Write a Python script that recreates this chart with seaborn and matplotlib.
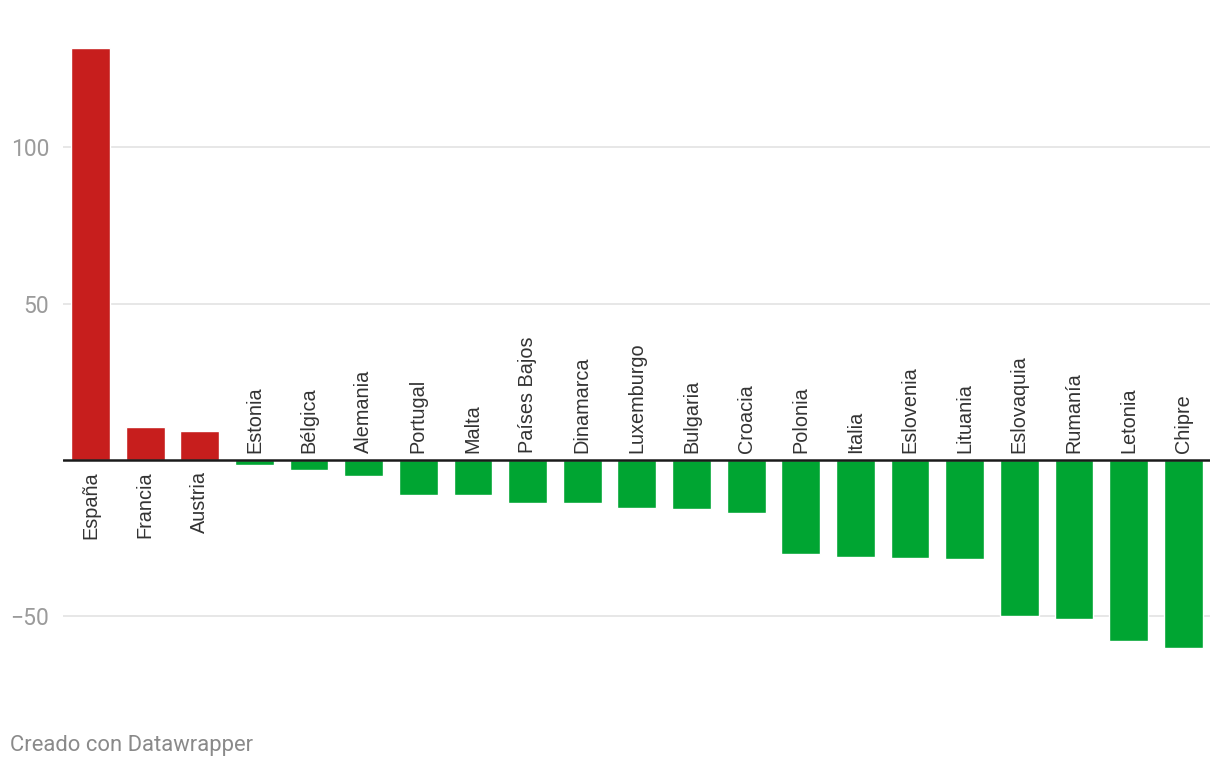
import matplotlib
matplotlib.use("Agg")
import matplotlib.pyplot as plt
import seaborn as sns
import pandas as pd

# Values
countries = ["España", "Francia", "Austria", "Estonia", "Bélgica", "Alemania",
             "Portugal", "Malta", "Países Bajos", "Dinamarca", "Luxemburgo",
             "Bulgaria", "Croacia", "Polonia", "Italia", "Eslovenia", "Lituania",
             "Eslovaquia", "Rumanía", "Letonia", "Chipre"]
values = [131.8, 10.5, 9.3, -1.6, -3.3, -5.1, -11.2, -11.2, -13.7, -13.7, -15.4,
          -15.7, -17.0, -30.0, -31.0, -31.3, -31.7, -49.9, -50.8, -57.8, -60.0]
y_ticks = [-50, 50, 100]

RED = "#c71e1d"
GREEN = "#00a532"

sns.set_theme(style="white")
plt.rcParams["font.family"] = ["Roboto", "DejaVu Sans"]

df = pd.DataFrame({"pais": countries, "valor": values})
df["signo"] = ["pos" if v > 0 else "neg" for v in df["valor"]]

fig = plt.figure(figsize=(12.2, 7.68), dpi=100)
ax = fig.add_axes([63 / 1220, 1 - 680 / 768, (1210 - 63) / 1220, 650 / 768])

sns.barplot(data=df, x="pais", y="valor", hue="signo",
            palette={"pos": RED, "neg": GREEN}, dodge=False, legend=False,
            width=0.71, saturation=1, ax=ax, zorder=2)

ax.set_ylim(-70.3, 137.4)
ax.set_xlim(-0.504, len(countries) - 0.51)
ax.set_yticks(y_ticks)
ax.set_yticklabels(["\u221250", "50", "100"])
ax.yaxis.grid(True, color="#e3e3e3", linewidth=1.2, zorder=0)
ax.axhline(0, color="#1a1a1a", linewidth=1.8, zorder=3)
ax.tick_params(axis="y", length=0, pad=10, labelsize=16.5, labelcolor="#9b9b9b")
ax.set_xticks([])
ax.set_xlabel("")
ax.set_ylabel("")
for s in ax.spines.values():
    s.set_visible(False)

# country labels: below the baseline for positives, above for negatives
lab_font = ["Liberation Sans", "DejaVu Sans"]
for i, (name, v) in enumerate(zip(countries, values)):
    if v > 0:
        ax.annotate(name, (i, 0), xytext=(0, -8), textcoords="offset points",
                    rotation=90, ha="center", va="top", fontsize=14.3,
                    color="#333333", family=lab_font)
    else:
        ax.annotate(name, (i, 0), xytext=(0, 5), textcoords="offset points",
                    rotation=90, ha="center", va="bottom", fontsize=14.3,
                    color="#333333", family=lab_font)

fig.text(10 / 1220, 1 - 745 / 768, "Creado con Datawrapper", fontsize=15.8,
         color="#8a8a8a", ha="left", va="center")

fig.savefig("out.png", dpi=100)
